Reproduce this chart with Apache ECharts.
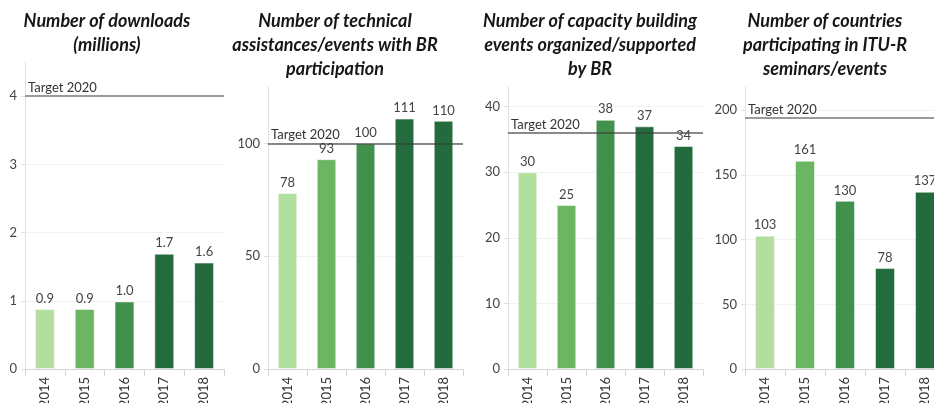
<!DOCTYPE html>
<html>
<head>
<meta charset="utf-8">
<script src="https://cdn.jsdelivr.net/npm/echarts@6/dist/echarts.min.js"></script>
<style>
  html, body { margin: 0; padding: 0; background: #fff; }
  #container { width: 934px; height: 403px; }
</style>
</head>
<body>
<div id="container"></div>
<script>
var years = ['2014', '2015', '2016', '2017', '2018'];

var downloads = [0.88, 0.88, 0.99, 1.69, 1.56];
var assistances = [78, 93, 100, 111, 110];
var capacityEvents = [30, 25, 38, 37, 34];
var countries = [103, 161, 130, 78, 137];

var targets = [4, 100, 36, 194];
var axisMax = [4.5, 125, 43, 218];
var axisStep = [1, 50, 10, 50];

var titles = [
  'Number of downloads\n(millions)',
  'Number of technical\nassistances/events with BR\nparticipation',
  'Number of capacity building\nevents organized/supported\nby BR',
  'Number of countries\nparticipating in ITU-R\nseminars/events'
];

var barColors = ['#b2dea0', '#6cb663', '#41904c', '#246b3d', '#236a3c'];

var myChart = echarts.init(document.getElementById('container'));

var font = 'Lato, "Open Sans", sans-serif';

// grid positions for the four small panels (last one runs past the right edge)
var grids = [
  { left: 25, width: 199, top: 62, bottom: 34, outerBoundsMode: 'none' },
  { left: 268, width: 195, top: 87, bottom: 34, outerBoundsMode: 'none' },
  { left: 508, width: 195, top: 87, bottom: 34, outerBoundsMode: 'none' },
  { left: 745, width: 200, top: 87, bottom: 34, outerBoundsMode: 'none' }
];
var titleX = [107, 335, 590, 825];
var targetLineColors = ['#9a9a9a', 'rgba(60,60,60,0.8)', 'rgba(60,60,60,0.8)', '#9a9a9a'];
var targetLineWidths = [2, 1.6, 1.6, 2];

var allData = [downloads, assistances, capacityEvents, countries];

var xAxes = [], yAxes = [], series = [], graphics = [];

allData.forEach(function (values, i) {
  xAxes.push({
    type: 'category',
    gridIndex: i,
    data: years,
    axisLine: { lineStyle: { color: '#d4d4d4' } },
    axisTick: { show: true, alignWithLabel: false, length: 7, lineStyle: { color: '#d4d4d4' } },
    axisLabel: { rotate: 90, color: '#333', fontSize: 13, fontFamily: font, margin: 8 }
  });
  yAxes.push({
    type: 'value',
    gridIndex: i,
    min: 0,
    max: axisMax[i],
    interval: axisStep[i],
    axisLine: { show: true, lineStyle: { color: '#e0e0e0' } },
    axisTick: { show: true, length: 4, lineStyle: { color: '#e0e0e0' } },
    axisLabel: { color: '#444', fontSize: 13, fontFamily: font, margin: 8, showMaxLabel: false },
    splitLine: { show: true, showMaxLine: false, lineStyle: { color: '#f1f1f1' } }
  });
  series.push({
    type: 'bar',
    xAxisIndex: i,
    yAxisIndex: i,
    barWidth: '50%',
    data: values.map(function (v, j) {
      return { value: v, itemStyle: { color: barColors[j] } };
    }),
    itemStyle: { borderColor: 'rgba(255,255,255,0.5)', borderWidth: 1 },
    label: {
      show: true,
      position: 'top',
      distance: 4,
      color: '#444',
      fontSize: 13,
      fontFamily: font,
      formatter: function (p) {
        return i === 0 ? p.value.toFixed(1) : String(p.value);
      }
    },
    markLine: {
      silent: true,
      symbol: 'none',
      animation: false,
      lineStyle: { type: 'solid', color: targetLineColors[i], width: targetLineWidths[i] },
      label: {
        show: true,
        position: 'insideStartTop',
        distance: [3, 2],
        formatter: 'Target 2020',
        color: '#333',
        fontSize: 13,
        fontFamily: font
      },
      data: [{ yAxis: targets[i] }]
    }
  });
  graphics.push({
    type: 'text',
    x: titleX[i],
    y: 9,
    style: {
      text: titles[i],
      align: 'center',
      fill: '#161616',
      fontSize: 18,
      fontWeight: 'bold',
      fontStyle: 'italic',
      fontFamily: font,
      lineHeight: 24
    }
  });
});

myChart.setOption({
  animation: false,
  grid: grids,
  xAxis: xAxes,
  yAxis: yAxes,
  series: series,
  graphic: graphics
});
</script>
</body>
</html>
